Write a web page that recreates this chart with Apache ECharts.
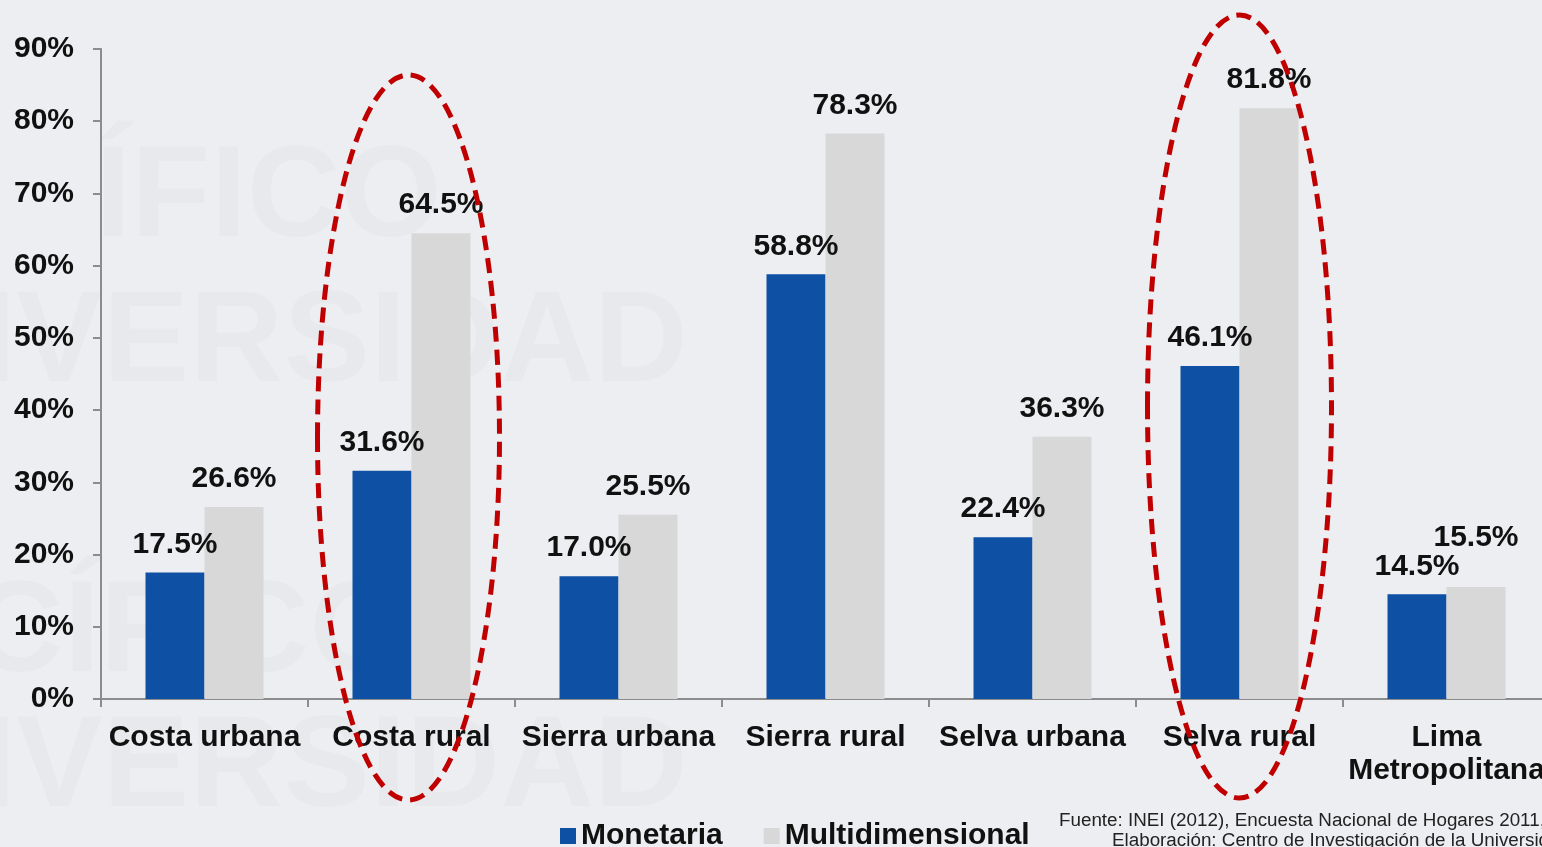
<!DOCTYPE html>
<html>
<head>
<meta charset="utf-8">
<script src="https://cdn.jsdelivr.net/npm/echarts@6/dist/echarts.min.js"></script>
<style>
  html, body { margin: 0; padding: 0; background: #eceef1; }
  #chart { width: 1542px; height: 847px; }
</style>
</head>
<body>
<div id="chart"></div>
<script>
  // datos
  var categorias = ['Costa urbana', 'Costa rural', 'Sierra urbana', 'Sierra rural', 'Selva urbana', 'Selva rural', 'Lima\nMetropolitana'];
  var monetaria = [17.5, 31.6, 17.0, 58.8, 22.4, 46.1, 14.5];
  var multidimensional = [26.6, 64.5, 25.5, 78.3, 36.3, 81.8, 15.5];
  var resaltadas = [1, 5]; // categorías con elipse roja

  var myChart = echarts.init(document.getElementById('chart'));
  var fuente = '"Liberation Sans", Arial, sans-serif';

  var labelBase = {
    show: true,
    position: 'top',
    distance: 13,
    fontFamily: fuente,
    fontWeight: 'bold',
    fontSize: 30,
    color: '#111',
    formatter: function (p) { return p.value.toFixed(1) + '%'; }
  };

  var dataMulti = multidimensional.map(function (v, i) {
    if (i === multidimensional.length - 1) {
      return { value: v, label: { distance: 34 } };
    }
    return v;
  });

  // marcas de agua del fondo
  var marca = function (id, txt, x, y) {
    return {
      id: id, type: 'text', left: x, top: y, z: -10, silent: true,
      style: {
        text: txt, fill: 'rgba(0,0,0,0.018)',
        font: 'bold 130px ' + fuente
      }
    };
  };

  myChart.setOption({
    backgroundColor: '#eceef1',
    animation: false,
    grid: { left: 101, top: 49, width: 1449, height: 650, outerBoundsMode: 'none', containLabel: false },
    legend: {
      left: 555, top: 816,
      itemWidth: 16, itemHeight: 16, itemGap: 41,
      icon: 'rect',
      textStyle: { fontFamily: fuente, fontWeight: 'bold', fontSize: 30, color: '#111' },
      data: ['Monetaria', 'Multidimensional']
    },
    xAxis: {
      type: 'category',
      data: categorias,
      axisLine: { lineStyle: { color: '#8c8c8c', width: 2 } },
      axisTick: { show: true, length: 8, lineStyle: { color: '#8c8c8c', width: 2 } },
      axisLabel: {
        margin: 22, interval: 0,
        fontFamily: fuente, fontWeight: 'bold', fontSize: 30, color: '#111', lineHeight: 33
      }
    },
    yAxis: {
      type: 'value', min: 0, max: 90, interval: 10,
      axisLine: { show: true, lineStyle: { color: '#8c8c8c', width: 2 } },
      axisTick: { show: true, length: 8, lineStyle: { color: '#8c8c8c', width: 2 } },
      splitLine: { show: false },
      axisLabel: {
        margin: 27, formatter: '{value}%',
        fontFamily: fuente, fontWeight: 'bold', fontSize: 30, color: '#111'
      }
    },
    series: [
      {
        name: 'Monetaria', type: 'bar', data: monetaria,
        barGap: '0%', barCategoryGap: '43%',
        itemStyle: { color: '#0e50a4' },
        label: labelBase
      },
      {
        name: 'Multidimensional', type: 'bar', data: dataMulti,
        itemStyle: { color: '#d8d8d8' },
        label: labelBase
      }
    ],
    graphic: [
      marca('m1', 'ÍFICO', 95, 135),
      marca('m2', 'IVERSIDAD', -20, 280),
      marca('m3', 'CÍFICO', -30, 570),
      marca('m4', 'IVERSIDAD', -20, 705),
      {
        id: 'f1', type: 'text', x: 1059, y: 812, scaleX: 1.045, silent: true,
        style: { text: 'Fuente: INEI (2012), Encuesta Nacional de Hogares 2011, 2012.', fill: '#222', font: '18px ' + fuente }
      },
      {
        id: 'f2', type: 'text', x: 1112, y: 832, scaleX: 1.045, silent: true,
        style: { text: 'Elaboración: Centro de Investigación de la Universidad del Pacífico.', fill: '#222', font: '18px ' + fuente }
      }
    ]
  });

  // elipses rojas discontinuas alrededor de las zonas rurales
  var elipses = [
    { top: 75, bottom: 800, rx: 91, dx: -3 },
    { top: 15, bottom: 798, rx: 92, dx: 0 }
  ];
  var extra = resaltadas.map(function (idx, k) {
    var cx = myChart.convertToPixel({ xAxisIndex: 0 }, categorias[idx]);
    var e = elipses[k];
    return {
      id: 'elipse' + k, type: 'ellipse', z: 100, silent: true,
      shape: { cx: cx + e.dx, cy: (e.top + e.bottom) / 2, rx: e.rx, ry: (e.bottom - e.top) / 2 },
      style: { fill: 'none', stroke: '#c00000', lineWidth: 5, lineDash: [15, 8] }
    };
  });
  myChart.setOption({ graphic: extra });
</script>
</body>
</html>
